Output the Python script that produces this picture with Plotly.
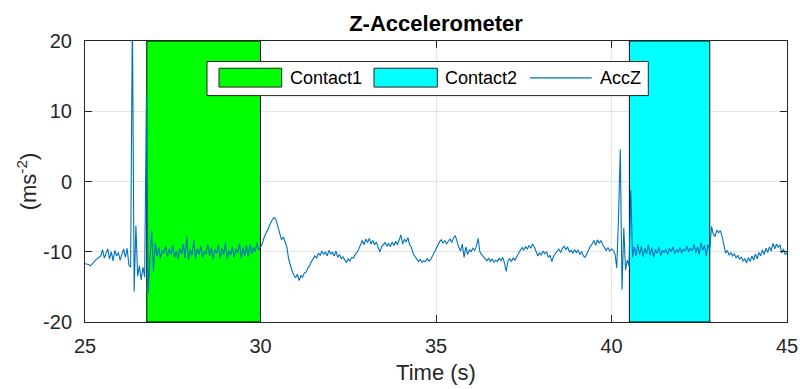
import numpy as np
import plotly.graph_objects as go

# ---------------- data ----------------
t_start = 25.0
t_step = 0.05
accz = [
    # 25.00 - 25.95
    -11.7, -11.7, -11.8, -12.0, -11.8, -11.5, -11.2, -11.0, -10.8, -10.6, -9.7, -10.9, -10.2, -9.6, -11.0, -10.0, -11.3, -9.8, -10.6, -10.1,
    # 26
    -11.2, -10.3, -9.6, -10.8, -9.5, -11.9, -12.2, 24.0, -15.7, -6.3, -13.5, -12.0, -14.0, -12.2, -13.6, 12.4, -15.9, -11.0, -7.1, -12.8,
    # 27
    -8.8, -10.6, -9.4, -10.9, -9.8, -10.2, -9.2, -10.7, -9.6, -10.4, -9.1, -10.8, -9.9, -11.0, -9.5, -10.3, -8.9, -10.9, -7.8, -11.2,
    # 28
    -9.7, -10.5, -8.4, -11.0, -9.6, -10.4, -9.2, -10.8, -9.9, -10.3, -8.9, -10.6, -9.4, -11.1, -9.7, -10.2, -9.0, -10.9, -9.5, -10.4,
    # 29
    -8.7, -11.0, -9.8, -10.5, -9.3, -10.8, -9.6, -10.2, -8.8, -10.9, -9.4, -10.6, -9.1, -10.7, -8.9, -10.3, -9.4, -10.0, -8.7, -9.8,
    # 30
    -9.4, -8.9, -8.0, -7.4, -6.9, -6.2, -5.8, -5.3, -5.1, -5.6, -6.6, -7.6, -8.3, -7.9, -8.6, -9.3, -11.0, -12.0, -12.7, -13.3,
    # 31
    -13.7, -13.2, -14.1, -13.4, -13.6, -13.0, -12.9, -12.3, -12.0, -11.4, -11.0, -10.6, -10.9, -10.2, -10.5, -9.9, -10.4, -10.0, -10.6, -9.8,
    # 32
    -10.3, -10.1, -10.6, -9.9, -10.8, -10.4, -11.0, -10.7, -11.2, -11.5, -11.0, -11.3, -10.8, -10.9, -10.4, -10.1, -9.6, -8.9, -8.4, -9.0,
    # 33
    -8.2, -8.7, -8.1, -8.9, -8.4, -9.0, -8.6, -9.4, -10.0, -9.3, -9.0, -8.7, -9.2, -8.8, -9.3, -8.6, -9.1, -8.5, -9.0, -8.3,
    # 34
    -7.6, -8.9, -8.2, -8.6, -8.0, -9.0, -9.4, -10.3, -10.7, -11.0, -11.4, -11.1, -11.5, -11.3, -11.4, -11.0, -11.3, -11.1, -10.6, -10.1,
    # 35
    -9.5, -9.0, -8.6, -8.3, -8.8, -8.4, -8.9, -8.5, -8.2, -8.7, -8.0, -7.7, -8.6, -9.4, -9.9, -8.9, -10.8, -9.3, -10.4, -9.7,
    # 36
    -10.0, -9.5, -9.8, -9.2, -8.1, -10.0, -10.4, -10.7, -10.9, -11.3, -10.9, -11.4, -11.0, -11.5, -11.2, -11.4, -10.9, -11.3, -10.8, -11.6,
    # 37
    -12.8, -11.3, -11.0, -11.4, -10.9, -11.2, -10.7, -10.2, -9.7, -9.4, -9.8, -9.3, -9.6, -9.1, -9.5, -8.9, -9.3, -10.0, -10.6, -10.1,
    # 38
    -10.5, -9.9, -10.3, -10.0, -10.8, -10.5, -11.4, -10.6, -10.2, -9.8, -9.6, -10.1, -9.5, -9.2, -9.7, -9.3, -10.0, -9.8, -10.2, -9.7,
    # 39
    -10.1, -9.8, -10.4, -10.0, -10.6, -10.8, -10.2, -9.6, -9.2, -8.9, -8.4, -9.1, -8.3, -8.8, -8.4, -9.0, -9.5, -9.8, -9.4, -9.9,
    # 40
    -9.6, -9.8, -10.3, -12.3, -5.1, 4.6, -15.4, -6.6, -12.6, -11.2, -12.0, -1.2, -10.8, -9.3, -10.6, -8.9, -10.4, -9.2, -10.7, -9.5,
    # 41
    -10.3, -9.0, -10.5, -9.4, -10.8, -9.7, -10.2, -9.3, -10.6, -9.8, -10.1, -9.6, -10.4, -9.5, -10.0, -9.3, -10.3, -9.7, -10.1, -9.4,
    # 42
    -10.2, -9.6, -9.9, -9.2, -10.0, -9.5, -9.9, -8.9, -10.2, -9.3, -10.4, -8.7, -9.8, -9.1, -10.6, -9.0, -9.7, -6.4, -7.5, -7.8,
    # 43
    -6.9, -7.3, -7.0, -7.8, -9.0, -10.2, -9.8, -10.5, -10.1, -10.6, -10.3, -10.9, -10.5, -11.1, -10.7, -11.3, -11.0, -11.6, -10.8, -11.4,
    # 44
    -10.6, -11.2, -10.3, -11.0, -10.1, -10.6, -9.7, -10.4, -9.5, -10.1, -9.3, -9.9, -8.8, -9.6, -8.9, -9.4, -9.0, -10.2, -9.6, -10.4,
    # 45.00
    -10.1,
]
time = t_start + t_step * np.arange(len(accz))

contact_names = ["Contact1", "Contact2"]
contact_starts = [26.76, 40.51]
contact_ends = [30.00, 42.80]
contact_colors = ["#00ff00", "#00ffff"]
line_name = "AccZ"
line_color = "#0072BD"

x_range = [25, 45]
y_range = [-20, 20]
x_ticks = [25, 30, 35, 40, 45]
x_tick_labels = ["25", "30", "35", "40", "45"]
y_ticks = [-20, -10, 0, 10, 20]
y_tick_labels = ["-20", "-10", "0", "10", "20"]

FONT = "Liberation Sans, Arial, Helvetica, sans-serif"
AX = "#262626"

# ---------------- figure ----------------
fig = go.Figure()
for name, s, e, c in zip(contact_names, contact_starts, contact_ends, contact_colors):
    fig.add_trace(go.Scatter(
        x=[s, e, e, s, s],
        y=[y_range[0], y_range[0], y_range[1], y_range[1], y_range[0]],
        mode="lines", fill="toself", fillcolor=c,
        line=dict(color="#000000", width=1),
        name=name, hoverinfo="skip", showlegend=False,
    ))

fig.add_trace(go.Scatter(
    x=time, y=accz, mode="lines",
    line=dict(color=line_color, width=1.1),
    name=line_name, showlegend=False,
))

axis_common = dict(
    showline=True, linecolor=AX, linewidth=1, mirror="ticks",
    ticks="inside", ticklen=7, tickcolor=AX,
    showgrid=True, gridcolor="#e3e3e3", gridwidth=1,
    zeroline=False, automargin=False,
    tickfont=dict(family=FONT, size=20, color=AX),
)

fig.update_xaxes(range=x_range, tickvals=x_ticks, ticktext=x_tick_labels, ticklabelstandoff=6,
                 title=dict(text="Time (s)", font=dict(family=FONT, size=22, color=AX), standoff=8),
                 **axis_common)
fig.update_yaxes(range=y_range, tickvals=y_ticks, ticktext=y_tick_labels, ticklabelstandoff=8,
                 title=dict(text="(ms<sup>-2</sup>)", font=dict(family=FONT, size=22, color=AX), standoff=0),
                 **axis_common)

# ---------------- legend (drawn MATLAB-style, in paper coordinates) ----------------
shapes = []
annotations = []
shapes.append(dict(type="rect", xref="paper", yref="paper", x0=0.1738, x1=0.8024, y0=0.8057, y1=0.9269,
                   fillcolor="white", line=dict(color=AX, width=1), layer="above"))
sw_x = [(0.1909, 0.2802), (0.4117, 0.5019)]
txt_x = [0.2892, 0.5104]
for (x0, x1), c, tx, name in zip(sw_x, contact_colors, txt_x, contact_names):
    shapes.append(dict(type="rect", xref="paper", yref="paper", x0=x0, x1=x1, y0=0.8360, y1=0.9030,
                       fillcolor=c, line=dict(color=AX, width=1), layer="above"))
    annotations.append(dict(text=name, xref="paper", yref="paper", x=tx, y=0.8699,
                            xanchor="left", yanchor="middle", showarrow=False,
                            font=dict(family=FONT, size=18, color="#000000")))
shapes.append(dict(type="line", xref="paper", yref="paper", x0=0.6339, x1=0.7218, y0=0.8688, y1=0.8688,
                   line=dict(color=line_color, width=1.1), layer="above"))
annotations.append(dict(text=line_name, xref="paper", yref="paper", x=0.7312, y=0.8699,
                        xanchor="left", yanchor="middle", showarrow=False,
                        font=dict(family=FONT, size=18, color="#000000")))

fig.update_layout(
    width=800, height=389,
    margin=dict(l=85, r=13, t=41, b=67),
    paper_bgcolor="white", plot_bgcolor="white",
    title=dict(text="<b>Z-Accelerometer</b>", x=0.545, xanchor="center", y=0.94, yanchor="middle",
               font=dict(family=FONT, size=22, color="#000000")),
    shapes=shapes,
    annotations=annotations,
    showlegend=False,
)

fig.write_html("out.html")
